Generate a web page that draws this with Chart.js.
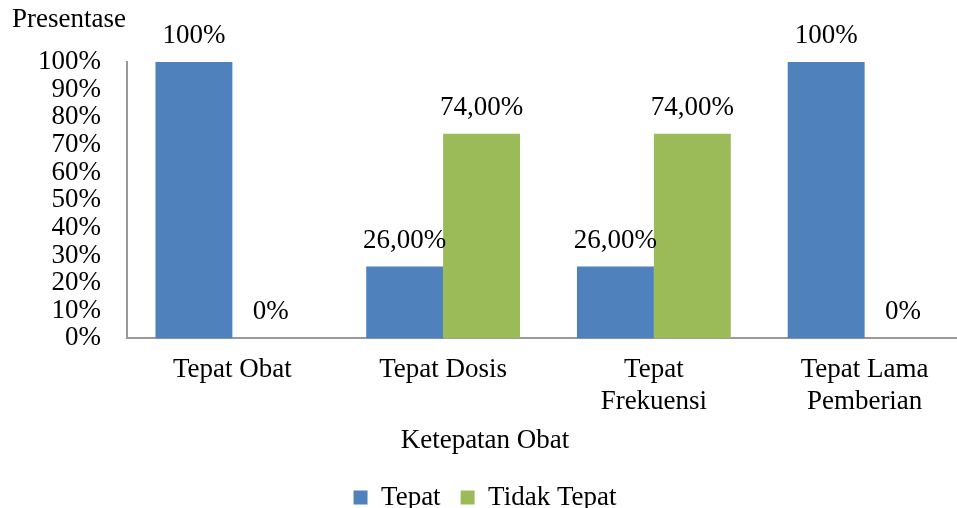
<!DOCTYPE html>
<html>
<head>
<meta charset="utf-8">
<script src="https://cdn.jsdelivr.net/npm/chart.js@4/dist/chart.umd.min.js"></script>
<style>
  html, body { margin: 0; padding: 0; background: #fff; overflow: hidden; }
  #wrap { position: absolute; left: 0; top: 0; width: 970px; height: 508px; }
</style>
</head>
<body>
<div id="wrap"><canvas id="chart" width="970" height="508"></canvas></div>
<script>
// data
const categories = [['Tepat Obat'], ['Tepat Dosis'], ['Tepat', 'Frekuensi'], ['Tepat Lama', 'Pemberian']];
const tepat = [1.00, 0.26, 0.26, 1.00];
const tidakTepat = [0.00, 0.74, 0.74, 0.00];
const tepatLabels = ['100%', '26,00%', '26,00%', '100%'];
const tidakTepatLabels = ['0%', '74,00%', '74,00%', '0%'];
const yAxisName = 'Presentase';
const xAxisName = 'Ketepatan Obat';

const FONT = '"Liberation Serif", "Times New Roman", serif';
const FS = 27;

// value text above each bar + the two axis names
const valueLabels = {
    id: 'valueLabels',
    afterDatasetsDraw(chart) {
        const ctx = chart.ctx;
        ctx.save();
        ctx.font = FS + 'px ' + FONT;
        ctx.fillStyle = '#000';
        ctx.textAlign = 'center';
        ctx.textBaseline = 'middle';
        chart.data.datasets.forEach((ds, i) => {
            const meta = chart.getDatasetMeta(i);
            meta.data.forEach((bar, j) => {
                ctx.fillText(ds.valueText[j], bar.x, bar.y - 26);
            });
        });
        // x axis name sits centred on the whole canvas, not on the plot
        ctx.fillText(xAxisName, chart.width / 2, 441);
        ctx.textAlign = 'left';
        ctx.fillText(yAxisName, 12, 20);
        ctx.restore();
    }
};

new Chart(document.getElementById('chart').getContext('2d'), {
    type: 'bar',
    data: {
        labels: categories,
        datasets: [{
            label: 'Tepat',
            data: tepat,
            valueText: tepatLabels,
            backgroundColor: '#4F81BD',
            barPercentage: 1,
            categoryPercentage: 0.73
        }, {
            label: 'Tidak Tepat',
            data: tidakTepat,
            valueText: tidakTepatLabels,
            backgroundColor: '#9BBB59',
            barPercentage: 1,
            categoryPercentage: 0.73
        }]
    },
    options: {
        responsive: false,
        animation: false,
        layout: { padding: { left: 0, right: 0, top: 62, bottom: -13 } },
        scales: {
            x: {
                afterFit(scale) { scale.height = 125.6; },
                grid: { display: false, drawTicks: false },
                border: { display: true, color: '#999', width: 2 },
                ticks: {
                    color: '#000',
                    padding: 15,
                    maxRotation: 0,
                    autoSkip: false,
                    font: { family: FONT, size: FS, lineHeight: 1.2 }
                }
            },
            y: {
                min: 0,
                max: 1,
                afterFit(scale) { scale.width = 127; },
                grid: { display: false, drawTicks: false },
                border: { display: true, color: '#999', width: 2 },
                ticks: {
                    stepSize: 0.1,
                    autoSkip: false,
                    color: '#000',
                    padding: 26,
                    font: { family: FONT, size: FS, lineHeight: 1 },
                    callback: v => Math.round(v * 100) + '%'
                }
            }
        },
        plugins: {
            legend: {
                position: 'bottom',
                labels: {
                    color: '#000',
                    boxWidth: 14,
                    boxHeight: 14,
                    padding: 20,
                    font: { family: FONT, size: FS }
                }
            },
            tooltip: { enabled: false }
        }
    },
    plugins: [valueLabels]
});
</script>
</body>
</html>
